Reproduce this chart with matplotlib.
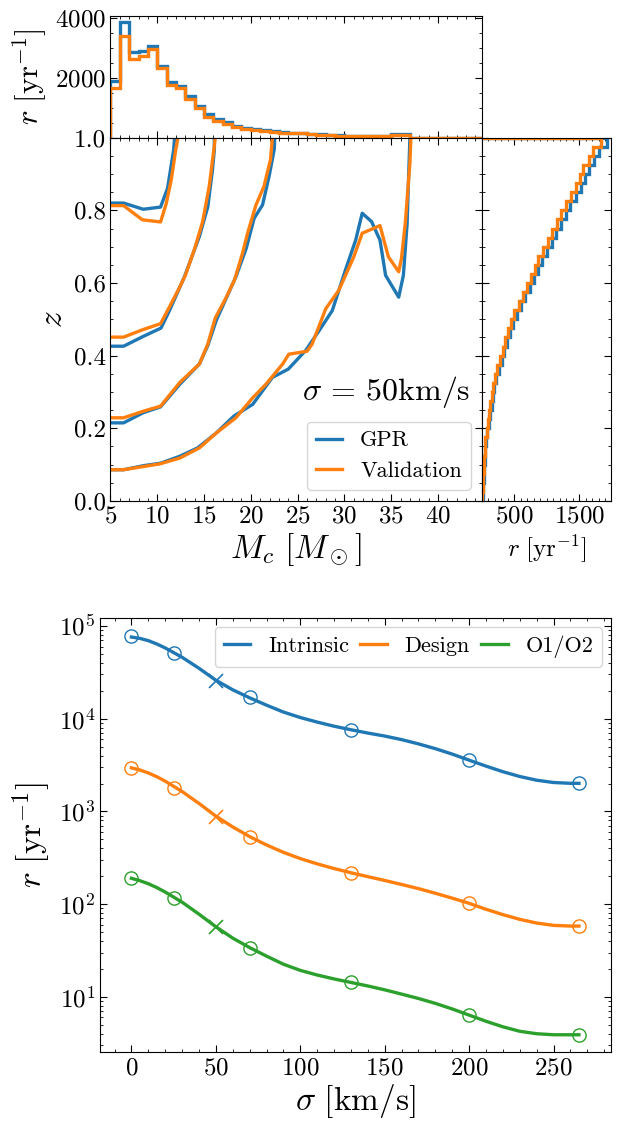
import numpy as np
import matplotlib
matplotlib.use('Agg')
import matplotlib.pyplot as plt
from matplotlib.ticker import MultipleLocator, FixedLocator

plt.rcParams['font.family'] = 'serif'
plt.rcParams['font.serif'] = ['cmr10']
plt.rcParams['mathtext.fontset'] = 'cm'
plt.rcParams['axes.formatter.use_mathtext'] = True
plt.rcParams['axes.unicode_minus'] = False

# --- marginal in chirp mass (bins of 1 Msun from 5)
mc_edges = np.arange(5, 46, 1.0)
mc_gpr = [1910, 3876, 2865, 2899, 3067, 2393, 1865, 1742, 1404, 1045,
          787, 629, 517, 393, 337, 303, 258, 225, 180, 160,
          150, 130, 110, 95, 80, 70, 62, 58, 55, 55,
          135, 130, 0, 0, 0, 0, 0, 0, 0, 0]
mc_val = [1663, 3404, 2618, 2730, 2955, 2315, 1775, 1663, 1303, 989,
          708, 573, 460, 348, 292, 258, 225, 191, 150, 145,
          140, 120, 100, 85, 72, 62, 56, 52, 50, 50,
          100, 95, 0, 0, 0, 0, 0, 0, 0, 0]

# --- marginal in redshift (bins of 0.025)
z_edges = np.linspace(0, 1, 41)
z_val = [5, 13, 22, 30, 36, 41, 52, 70, 90, 110,
         131, 152, 172, 195, 235, 280, 320, 355, 400, 450,
         500, 565, 630, 700, 760, 815, 870, 945, 1015, 1085,
         1150, 1225, 1290, 1375, 1445, 1505, 1565, 1650, 1720, 1833]
z_gpr = [9, 18, 28, 37, 44, 50, 62, 82, 104, 125,
         147, 170, 191, 215, 257, 304, 346, 383, 430, 482,
         535, 602, 670, 743, 806, 864, 921, 1000, 1073, 1146,
         1214, 1292, 1360, 1448, 1521, 1584, 1647, 1735, 1808, 1925]

# --- contours (GPR)
g1_mc = [5, 6.4, 8.5, 10.35, 11.1, 11.75, 11.85]
g1_z = [0.820, 0.820, 0.803, 0.809, 0.861, 0.966, 1.0]
g2_mc = [5, 6.4, 8.5, 10.4, 11.3, 12.9, 14.5, 15.4, 15.9, 16.1, 16.1]
g2_z = [0.426, 0.426, 0.453, 0.476, 0.524, 0.617, 0.728, 0.81, 0.912, 0.968, 1.0]
g3_mc = [5, 6.4, 8.5, 10.35, 12.4, 14.5, 15.4, 16.3, 17.35, 18.4, 19.5,
         20.35, 21.25, 21.95, 22.5, 22.55]
g3_z = [0.215, 0.215, 0.243, 0.259, 0.321, 0.377, 0.428, 0.497, 0.557, 0.617,
        0.695, 0.778, 0.815, 0.894, 0.968, 1.0]
g4_mc = [5, 6.4, 8.5, 10.35, 12.4, 14.3, 16.3, 18.2, 20.2, 22.3, 24.0, 25.85,
         27.3, 28.7, 30.1, 31.2, 31.9, 32.9, 33.8, 34.4, 35.8, 36.3, 36.7, 36.85, 37.0]
g4_z = [0.086, 0.086, 0.097, 0.104, 0.123, 0.146, 0.187, 0.234, 0.266, 0.34, 0.363,
        0.414, 0.469, 0.524, 0.635, 0.718, 0.792, 0.769, 0.718, 0.621, 0.561,
        0.621, 0.764, 0.885, 1.0]

# --- contours (Validation)
v1_mc = [5, 6.4, 8.4, 10.35, 10.95, 11.5, 11.95, 12.2]
v1_z = [0.813, 0.813, 0.774, 0.768, 0.818, 0.885, 0.963, 1.0]
v2_mc = [5, 6.4, 8.5, 10.35, 11.3, 12.4, 13.0, 14.0, 14.85, 15.55, 16.05, 16.2]
v2_z = [0.451, 0.451, 0.472, 0.488, 0.534, 0.589, 0.621, 0.695, 0.769, 0.866, 0.968, 1.0]
v3_mc = [5, 6.4, 8.5, 10.35, 12.4, 14.5, 15.4, 16.2, 17.3, 18.25, 19.1, 19.65,
         20.55, 21.4, 22.1, 22.3]
v3_z = [0.229, 0.229, 0.247, 0.261, 0.326, 0.377, 0.432, 0.504, 0.557, 0.608,
        0.681, 0.737, 0.815, 0.866, 0.94, 1.0]
v4_mc = [5, 6.4, 10.25, 12.4, 14.5, 16.3, 18.4, 20.2, 21.6, 23.4, 24.05, 26.0,
         26.55, 28.0, 29.4, 31.0, 31.9, 33.8, 34.7, 35.8, 36.1, 36.5, 37.0, 37.1]
v4_z = [0.086, 0.086, 0.102, 0.118, 0.146, 0.187, 0.229, 0.284, 0.321, 0.377,
        0.404, 0.412, 0.432, 0.529, 0.58, 0.672, 0.737, 0.758, 0.672, 0.631,
        0.668, 0.764, 0.931, 1.0]

# --- rate vs natal kick
sigma_pts = [0, 25, 70, 130, 200, 265]
intr_pts = [78000, 51000, 17200, 7600, 3570, 2020]
design_pts = [2970, 1800, 530, 216, 102, 58]
o1o2_pts = [192, 116, 33.6, 14.3, 6.3, 3.9]
sigma_chk = [50]
intr_chk = [25500]
design_chk = [870]
o1o2_chk = [56]

sigma_curve = [0, 5, 10, 15, 20, 30, 40, 50, 60, 70, 80, 90, 100, 110, 120, 130, 140,
               150, 160, 170, 180, 190, 200, 210, 220, 230, 240, 250, 260, 265]
intr_curve = [76000, 73500, 69500, 64000, 58000, 46000, 35000, 26000, 20500, 16800,
              14000, 11800, 10300, 9200, 8300, 7600, 7000, 6500, 5950, 5350, 4750,
              4150, 3570, 3080, 2680, 2380, 2170, 2050, 2010, 2010]
design_curve = [2950, 2800, 2600, 2370, 2120, 1640, 1220, 890, 680, 535, 435, 362,
                310, 272, 242, 218, 198, 180, 163, 147, 131, 116, 102, 88, 77, 68.5,
                62.5, 59, 58, 58]
o1o2_curve = [190, 179, 166, 151, 135, 105, 78, 57, 43, 34, 27.5, 22.5, 19.3, 17.2,
              15.6, 14.3, 13.1, 11.9, 10.7, 9.6, 8.5, 7.4, 6.35, 5.45, 4.75, 4.25,
              4.0, 3.9, 3.9, 3.9]

blue = '#1f77b4'
orange = '#ff7f0e'
green = '#2ca02c'
lw = 2.4

fig = plt.figure(figsize=(6.18, 11.23), dpi=100)
ax_top = fig.add_axes([0.1788, 0.8774, 0.6011, 0.1084])
ax_main = fig.add_axes([0.1788, 0.5539, 0.6011, 0.3235])
ax_right = fig.add_axes([0.7799, 0.5539, 0.2087, 0.3235])
ax_bot = fig.add_axes([0.1618, 0.0632, 0.8269, 0.3865])


def style(ax):
    ax.tick_params(which='both', direction='in', top=True, right=True,
                   labelsize=18)
    ax.tick_params(which='major', length=5)
    ax.tick_params(which='minor', length=2.5)


# top marginal
ax_top.hist(mc_edges[:-1], bins=mc_edges, weights=mc_gpr, histtype='step',
            color=blue, lw=lw)
ax_top.hist(mc_edges[:-1], bins=mc_edges, weights=mc_val, histtype='step',
            color=orange, lw=lw)
ax_top.set_xlim(5, 44.7)
ax_top.set_yticks([2000, 4000])
ax_top.yaxis.set_minor_locator(MultipleLocator(500))
ax_top.xaxis.set_minor_locator(MultipleLocator(1))
ax_top.set_xticklabels([])
ax_top.set_ylabel(r'$r~[\mathrm{yr}^{-1}]$', fontsize=22)
style(ax_top)

# main contours
for i, (mc, z) in enumerate([(g1_mc, g1_z), (g2_mc, g2_z), (g3_mc, g3_z), (g4_mc, g4_z)]):
    ax_main.plot(mc, z, color=blue, lw=lw, label='GPR' if i == 0 else None)
for i, (mc, z) in enumerate([(v1_mc, v1_z), (v2_mc, v2_z), (v3_mc, v3_z), (v4_mc, v4_z)]):
    ax_main.plot(mc, z, color=orange, lw=lw, label='Validation' if i == 0 else None)
ax_main.set_xlim(5, 44.7)
ax_main.set_ylim(0, 1)
ax_main.set_xticks([5, 10, 15, 20, 25, 30, 35, 40])
ax_main.xaxis.set_minor_locator(MultipleLocator(1))
ax_main.set_yticks([0, 0.2, 0.4, 0.6, 0.8, 1.0])
ax_main.set_yticklabels(['0.0', '0.2', '0.4', '0.6', '0.8', '1.0'])
ax_main.yaxis.set_minor_locator(MultipleLocator(0.05))
ax_main.set_xlabel(r'$M_c~[M_\odot]$', fontsize=24, labelpad=2)
ax_main.set_ylabel(r'$z$', fontsize=24)
ax_main.text(0.968, 0.30, r'$\sigma\, =\, 50\mathrm{km/s}$', transform=ax_main.transAxes,
             ha='right', va='center', fontsize=23)
ax_main.legend(loc='lower right', fontsize=16, handlelength=1.2)
style(ax_main)

# right marginal
ax_right.hist(z_edges[:-1], bins=z_edges, weights=z_gpr, histtype='step',
              orientation='horizontal', color=blue, lw=lw)
ax_right.hist(z_edges[:-1], bins=z_edges, weights=z_val, histtype='step',
              orientation='horizontal', color=orange, lw=lw)
ax_right.set_ylim(0, 1)
ax_right.set_xlim(0, 1990)
ax_right.xaxis.set_major_locator(FixedLocator([500, 1500]))
ax_right.xaxis.set_minor_locator(MultipleLocator(100))
ax_right.yaxis.set_major_locator(MultipleLocator(0.2))
ax_right.yaxis.set_minor_locator(MultipleLocator(0.05))
ax_right.set_yticklabels([])
ax_right.set_xlabel(r'$r~[\mathrm{yr}^{-1}]$', fontsize=18)
style(ax_right)

# rate vs sigma
for curve, pts, chk, c, name in [(intr_curve, intr_pts, intr_chk, blue, 'Intrinsic'),
                                 (design_curve, design_pts, design_chk, orange, 'Design'),
                                 (o1o2_curve, o1o2_pts, o1o2_chk, green, 'O1/O2')]:
    ax_bot.plot(sigma_curve, curve, color=c, lw=lw, label=name)
    ax_bot.plot(sigma_pts, pts, 'o', mfc='none', mec=c, ms=9.5, mew=1.0)
    ax_bot.plot(sigma_chk, chk, 'x', color=c, ms=10, mew=1.2)
ax_bot.set_yscale('log')
ax_bot.set_xlim(-18.6, 284)
ax_bot.set_ylim(2.54, 1.22e5)
ax_bot.xaxis.set_major_locator(MultipleLocator(50))
ax_bot.xaxis.set_minor_locator(MultipleLocator(10))
ax_bot.set_xlabel(r'$\sigma~[\mathrm{km/s}]$', fontsize=24, labelpad=2)
ax_bot.set_ylabel(r'$r~[\mathrm{yr}^{-1}]$', fontsize=24)
ax_bot.legend(loc='upper right', ncol=3, fontsize=16, handlelength=1.2,
              columnspacing=0.5, borderaxespad=0.4)
style(ax_bot)

fig.savefig('out.png', dpi=100)
